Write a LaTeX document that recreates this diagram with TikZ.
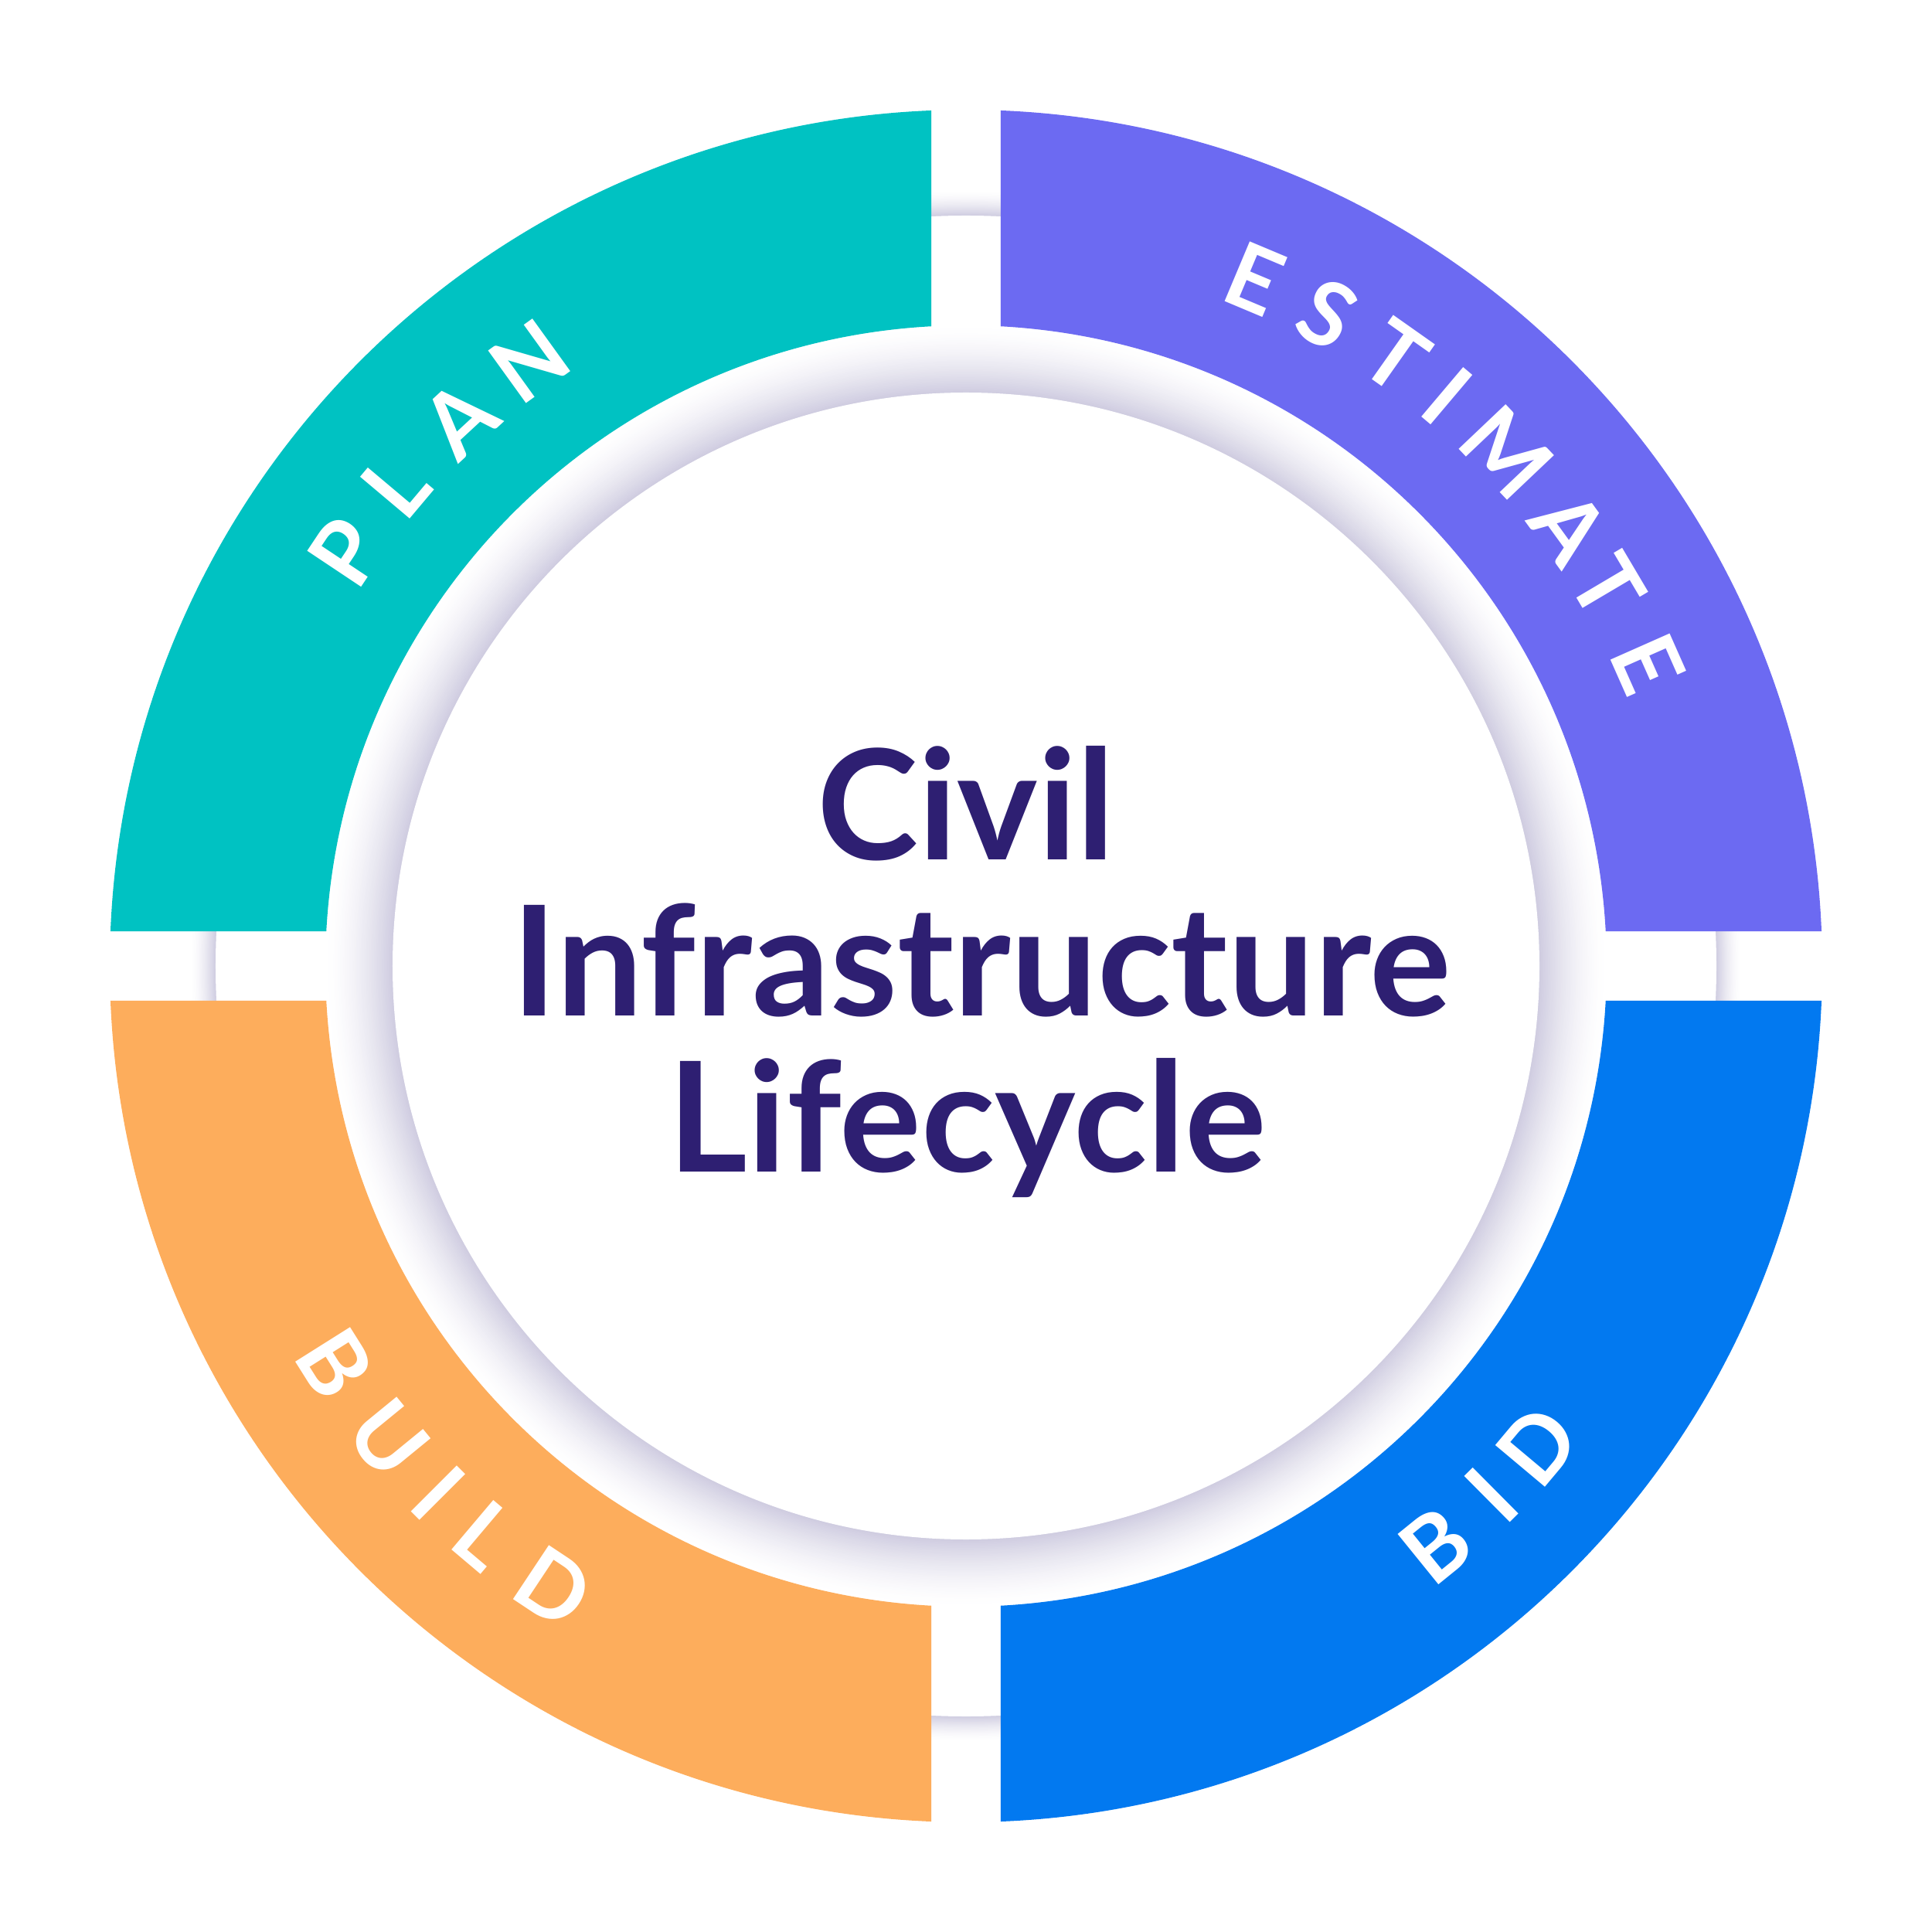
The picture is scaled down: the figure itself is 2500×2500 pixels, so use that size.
\documentclass[tikz,border=0pt]{standalone}
\usepackage{fontspec}
\newfontfamily\latofont{Lato}

\definecolor{planteal}{RGB}{0,194,194}
\definecolor{estpurple}{RGB}{108,106,242}
\definecolor{bidblue}{RGB}{2,121,240}
\definecolor{buildorange}{RGB}{253,173,92}
\definecolor{titlenavy}{RGB}{46,31,114}
\definecolor{shadowgray}{RGB}{206,203,224}

\tikzset{
  ringlabel/.style={font=\latofont\bfseries\fontsize{11.6}{12}\selectfont, text=white, inner sep=0pt},
  titletext/.style={font=\latofont\bfseries\fontsize{19.8}{24}\selectfont, text=titlenavy, inner sep=0pt, anchor=base}
}

\begin{document}
\begin{tikzpicture}[x=0.1pt,y=0.1pt]
	\useasboundingbox (-1250,-1250) rectangle (1250,1250);

	%Shape: Circle (shadow of the outer disc)
	\foreach \k [evaluate=\k as \pct using 100*(\k/24)^1.6, evaluate=\k as \rad using 1004-33*\k/24] in {0,...,24}
	  \fill [shadowgray!\pct!white] (0,0) circle [radius=\rad];
	%Shape: Circle (outer disc)
	\fill [white] (0,0) circle [radius=971];
	%Shape: Circle (shadow of the inner disc)
	\foreach \k [evaluate=\k as \pct using 100*(\k/40)^1.6, evaluate=\k as \rad using 829-87*\k/40] in {0,...,40}
	  \fill [shadowgray!\pct!white] (0,0) circle [radius=\rad];

	%Shape: Ring quarters
	\foreach \s/\c in {0/estpurple, 90/planteal, 180/buildorange, 270/bidblue}
	  \fill [\c] ({\s+2.328}:1108) arc [start angle={\s+2.328}, end angle={\s+87.672}, radius=1108]
	    -- ({\s+86.889}:829) arc [start angle={\s+86.889}, end angle={\s+3.111}, radius=829] -- cycle;

	%Shape: Circle (inner disc)
	\fill [white] (0,0) circle [radius=742];

	% Text Node
	\foreach \ch/\a [count=\i] in {P/146.3, L/139.9, A/132.8, N/125.8}
	  \node [ringlabel, rotate=\a-90] (plan\i) at (\a:965) {\ch};
	% Text Node
	\foreach \ch/\a [count=\i] in {E/67.2, S/61.0, T/54.8, I/49.8, M/43.5, A/36.0, T/30.6, E/23.9}
	  \node [ringlabel, rotate=\a-90] (estimate\i) at (\a:965) {\ch};
	% Text Node
	\foreach \ch/\a [count=\i] in {B/309.0, I/314.8, D/320.0}
	  \node [ringlabel, rotate=\a+90] (bid\i) at (\a:965) {\ch};
	% Text Node
	\foreach \ch/\a [count=\i] in {B/212.2, U/219.3, I/225.0, L/229.8, D/236.4}
	  \node [ringlabel, rotate=\a+90] (build\i) at (\a:965) {\ch};

	% Text Node
	\node [titletext] (civil) at (0,137) {Civil};
	% Text Node
	\node [titletext] (infra) at (20,-64) {Infrastructure};
	% Text Node
	\node [titletext] (life) at (2,-266) {Lifecycle};

\end{tikzpicture}
\end{document}
